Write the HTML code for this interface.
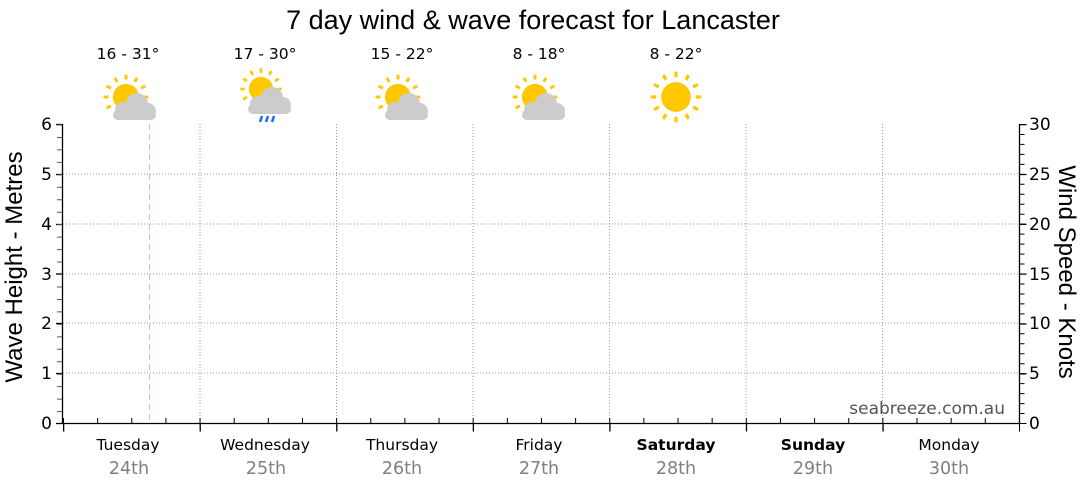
<!DOCTYPE html>
<html><head><style>
body{margin:0;background:#fff;}
svg{display:block;font-family:"DejaVu Sans","Liberation Sans",sans-serif;}
</style></head><body>
<svg width="1080" height="490" viewBox="0 0 1080 490">
<defs>
<g id="sun">
<circle cx="0" cy="0" r="13.5" fill="#ffc800"/>
<g stroke="#ffc800" stroke-width="3">
<line x1="0" y1="-18" x2="0" y2="-23"/><line x1="0" y1="18" x2="0" y2="23"/>
<line x1="-18" y1="0" x2="-23" y2="0"/><line x1="18" y1="0" x2="23" y2="0"/>
<line x1="9" y1="-15.6" x2="11.5" y2="-19.9"/><line x1="-9" y1="-15.6" x2="-11.5" y2="-19.9"/>
<line x1="9" y1="15.6" x2="11.5" y2="19.9"/><line x1="-9" y1="15.6" x2="-11.5" y2="19.9"/>
<line x1="15.6" y1="-9" x2="19.9" y2="-11.5"/><line x1="-15.6" y1="-9" x2="-19.9" y2="-11.5"/>
<line x1="15.6" y1="9" x2="19.9" y2="11.5"/><line x1="-15.6" y1="9" x2="-19.9" y2="11.5"/>
</g></g>
<g id="cloud" fill="#cccccc">
<circle cx="2" cy="-3" r="11"/><circle cx="-12" cy="3" r="8"/><circle cx="13" cy="4" r="8"/>
<rect x="-22" y="3" width="43" height="10" rx="5"/>
</g>
</defs>
<text x="533" y="29" font-size="27" text-anchor="middle" fill="#000" font-family="Liberation Sans,sans-serif">7 day wind &amp; wave forecast for Lancaster</text>
<g font-size="15.5" text-anchor="middle" fill="#000">
<text x="128" y="59">16 - 31°</text><text x="265" y="59">17 - 30°</text><text x="402" y="59">15 - 22°</text><text x="539" y="59">8 - 18°</text><text x="676" y="59">8 - 22°</text>
</g>
<g transform="translate(126,97) scale(0.97)"><use href="#sun"/></g>
<g transform="translate(135,107)"><use href="#cloud"/></g>
<g transform="translate(261,89) scale(0.9)"><use href="#sun"/></g>
<g transform="translate(270,101)"><use href="#cloud"/></g>
<g stroke="#1a6cff" stroke-width="2.5"><line x1="260" y1="122" x2="262" y2="116"/><line x1="266" y1="122" x2="268" y2="116"/><line x1="272" y1="122" x2="274" y2="116"/></g>
<g transform="translate(398,97) scale(0.97)"><use href="#sun"/></g>
<g transform="translate(407,107)"><use href="#cloud"/></g>
<g transform="translate(535,97) scale(0.97)"><use href="#sun"/></g>
<g transform="translate(544,107)"><use href="#cloud"/></g>
<g transform="translate(676,97) scale(1.1)"><use href="#sun"/></g>
<g stroke="#999" stroke-width="1" stroke-dasharray="1 2">
<line x1="63" y1="174" x2="1019" y2="174"/><line x1="63" y1="224" x2="1019" y2="224"/><line x1="63" y1="274" x2="1019" y2="274"/><line x1="63" y1="323" x2="1019" y2="323"/><line x1="63" y1="373" x2="1019" y2="373"/>
<line x1="200" y1="124" x2="200" y2="423"/><line x1="336.5" y1="124" x2="336.5" y2="423"/><line x1="473" y1="124" x2="473" y2="423"/><line x1="609.5" y1="124" x2="609.5" y2="423"/><line x1="746" y1="124" x2="746" y2="423"/><line x1="882.5" y1="124" x2="882.5" y2="423"/>
</g>
<line x1="149.5" y1="124" x2="149.5" y2="423" stroke="#f4b0b0" stroke-width="1" stroke-dasharray="6 4"/>
<g stroke="#000" stroke-width="1.3">
<line x1="62.5" y1="124" x2="62.5" y2="423"/>
<line x1="62" y1="423.5" x2="1019" y2="423.5"/>
<line x1="1019.5" y1="124" x2="1019.5" y2="423"/>
<line x1="56" y1="124.5" x2="62" y2="124.5"/><line x1="56" y1="174.5" x2="62" y2="174.5"/><line x1="56" y1="224.5" x2="62" y2="224.5"/><line x1="56" y1="274" x2="62" y2="274"/><line x1="56" y1="323.5" x2="62" y2="323.5"/><line x1="56" y1="373.5" x2="62" y2="373.5"/><line x1="56" y1="423.5" x2="62" y2="423.5"/>
</g>
<line x1="59.5" y1="124.5" x2="59.5" y2="423" stroke="#555" stroke-width="5" stroke-dasharray="1 11.46"/>
<line x1="63" y1="420.5" x2="1019" y2="420.5" stroke="#000" stroke-width="5" stroke-dasharray="1 33.14"/>
<line x1="63" y1="427.5" x2="1020" y2="427.5" stroke="#000" stroke-width="8" stroke-dasharray="1.3 135.27"/>
<line x1="1022" y1="124" x2="1022" y2="424" stroke="#000" stroke-width="5" stroke-dasharray="1 8.967"/>
<line x1="1023" y1="124" x2="1023" y2="424" stroke="#000" stroke-width="7" stroke-dasharray="1.3 48.53"/>
<g font-size="17" fill="#000" text-anchor="end">
<text x="52" y="130">6</text><text x="52" y="180">5</text><text x="52" y="230">4</text><text x="52" y="280">3</text><text x="52" y="329">2</text><text x="52" y="379">1</text><text x="52" y="429">0</text>
</g>
<g font-size="17" fill="#000">
<text x="1029" y="130">30</text><text x="1029" y="180">25</text><text x="1029" y="230">20</text><text x="1029" y="280">15</text><text x="1029" y="329">10</text><text x="1029" y="379">5</text><text x="1029" y="429">0</text>
</g>
<text transform="translate(22,267) rotate(-90)" font-size="24" text-anchor="middle" font-family="Liberation Sans,sans-serif">Wave Height - Metres</text>
<text transform="translate(1059,272) rotate(90)" font-size="24" text-anchor="middle" font-family="Liberation Sans,sans-serif">Wind Speed - Knots</text>
<text x="1005" y="414" font-size="17" fill="#555" text-anchor="end">seabreeze.com.au</text>
<g font-size="15.5" text-anchor="middle" fill="#000">
<text x="128" y="450">Tuesday</text><text x="265" y="450">Wednesday</text><text x="402" y="450">Thursday</text><text x="539" y="450">Friday</text><text x="676" y="450" font-weight="bold">Saturday</text><text x="813" y="450" font-weight="bold">Sunday</text><text x="949" y="450">Monday</text>
</g>
<g font-size="17.5" text-anchor="middle" fill="#808080">
<text x="129" y="474">24th</text><text x="266" y="474">25th</text><text x="402" y="474">26th</text><text x="539" y="474">27th</text><text x="676" y="474">28th</text><text x="813" y="474">29th</text><text x="949" y="474">30th</text>
</g>
</svg>
</body></html>
